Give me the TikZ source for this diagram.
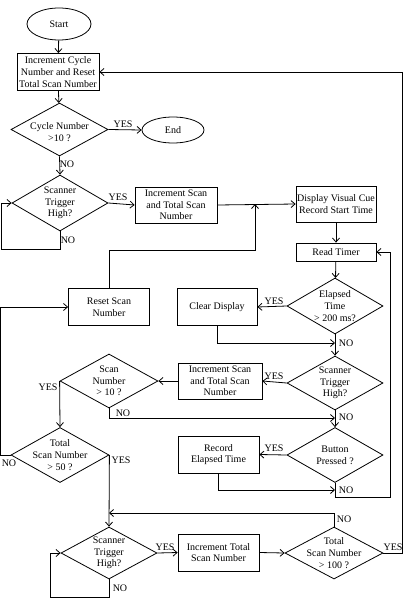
\documentclass[tikz,border=0pt]{standalone}
\usepackage{fontspec}
\setmainfont{Liberation Serif}
\usetikzlibrary{shapes.geometric,arrows.meta}

\tikzset{
  box/.style={draw, rectangle, minimum width=82, minimum height=37, inner sep=1pt, align=center},
  dia/.style={draw, diamond, minimum width=96, minimum height=54, inner sep=0pt},
  oval/.style={draw, ellipse, minimum width=64, minimum height=32, inner sep=0pt},
  txt/.style={align=center, inner sep=0pt},
  lab/.style={inner sep=0pt}
}

\begin{document}
\begin{tikzpicture}[x=1pt, y=-1pt, line width=0.8pt, >={Straight Barb[length=4pt,width=7pt]},
    font=\fontsize{10}{11.7}\selectfont]
            \useasboundingbox (0,0) rectangle (405,599);
            % Start and first cycle
            \node[oval] (start) at (59,24) {Start};
            \node[box] (inccyc) at (58,72) {Increment Cycle\\Number and Reset\\Total Scan Number};
            \node[dia, minimum width=97, minimum height=53] (dcyc) at (59.5,129.5) {};
            \node[txt] (dcyct) at (59.5,132) {Cycle Number\\>10 ?};
            \node[oval, minimum width=62, minimum height=26] (end) at (173,130) {End};
            \node[dia, minimum height=56] (dtrig1) at (60,203) {};
            \node[txt] (dtrig1t) at (dtrig1) {Scanner\\Trigger\\High?};
            \node[box, minimum height=36] (incscan1) at (176,205) {Increment Scan\\and Total Scan\\Number};
            \node[box, minimum width=80, minimum height=36] (cue) at (336,204) {Display Visual Cue\\Record Start Time};
            \node[box, minimum width=80, minimum height=18] (timer) at (336,252) {Read Timer};
            % Right column
            \node[dia, minimum height=56] (delap) at (335,306) {};
            \node[txt] (delapt) at (delap) {Elapsed\\Time\\> 200 ms?};
            \node[box, minimum width=80] (clear) at (217,307) {Clear Display};
            \node[box, minimum width=81] (reset) at (109,307) {Reset Scan\\Number};
            \node[dia] (dtrig2) at (335,383) {};
            \node[txt] (dtrig2t) at (dtrig2) {Scanner\\Trigger\\High?};
            \node[box, minimum width=84, minimum height=36] (incscan2) at (220,381) {Increment Scan\\and Total Scan\\Number};
            \node[dia, minimum width=98] (dscan) at (109,381) {};
            \node[txt] (dscant) at (dscan) {Scan\\Number\\> 10 ?};
            \node[dia, minimum width=98, minimum height=55] (dtot50) at (60,455) {};
            \node[txt] (dtot50t) at (dtot50) {Total\\Scan Number\\> 50 ?};
            \node[dia, minimum height=55] (dbutton) at (335,455) {};
            \node[txt] (dbuttont) at (dbutton) {Button\\Pressed ?};
            \node[box, minimum width=81] (record) at (218.5,454.5) {Record\\Elapsed Time};
            % Bottom row
            \node[dia, minimum height=52] (dtrig3) at (109,553) {};
            \node[txt] (dtrig3t) at (dtrig3) {Scanner\\Trigger\\High?};
            \node[box, minimum width=81] (inctot) at (218.5,552.5) {Increment Total\\Scan Number};
            \node[dia, minimum width=98, minimum height=52] (dtot100) at (334,553) {};
            \node[txt] (dtot100t) at (dtot100) {Total\\Scan Number\\> 100 ?};

            % Joins
            \coordinate (m1) at (255,204);
            \coordinate (m2) at (335,343);
            \coordinate (m3) at (335,418);
            \coordinate (m4) at (335,490);
            \coordinate (m5) at (109,513);
            \coordinate (m6) at (390,497);

            % Connectors
            \draw[->] (start) -- (inccyc);
            \draw[->] (inccyc) -- (dcyc);
            \draw[->] (dcyc.east) -- (end.west);
            \draw[->] (dcyc.south) -- (dtrig1.north);
            \draw[->] (dtrig1.east) -- (incscan1.west);
            \draw[->] (dtrig1.south) -- ++(0,18) -| ([xshift=-10pt]dtrig1.west) -- (dtrig1.west);
            \draw[->] (incscan1.east) -- (cue.west);
            \draw[->] (reset.north) -- ++(0,-38) -| (m1);
            \draw[->] (cue) -- (timer);
            \draw[->] (timer) -- (delap);
            \draw[->] (delap.west) -- (clear.east);
            \draw[->] (clear.south) |- (m2);
            \draw[->] (delap.south) -- (dtrig2.north);
            \draw[->] (dtrig2.west) -- (incscan2.east);
            \draw[->] (incscan2.west) -- (dscan.east);
            \draw[->] (dscan.south) |- (m3);
            \draw[->] (dtrig2.south) -- (dbutton.north);
            \draw[->] (dscan.west) -- (dtot50.north);
            \draw[->] (dtot50.west) -- ++(-10,0) |- (reset.west);
            \draw[->] (dtot50.east) -- (dtrig3.north);
            \draw[->] (dtot100.north) |- (m5);
            \draw[->] (dtrig3.south) -- ++(0,18) -| ([xshift=-10pt]dtrig3.west) -- (dtrig3.west);
            \draw[->] (dtrig3.east) -- (inctot.west);
            \draw[->] (inctot.east) -- (dtot100.west);
            \draw[->] (dtot100.east) -- ++(19,0) |- (inccyc.east);
            \draw[->] (dbutton.west) -- (record.east);
            \draw[->] (record.south) |- (m4);
            \draw[->] (dbutton.south) |- (m6) |- (timer.east);

            % YES / NO
            \node[lab] (y1) at (123,124) {YES};
            \node[lab] (n1) at (67,164) {NO};
            \node[lab] (y2) at (118,197) {YES};
            \node[lab] (n2) at (68,240) {NO};
            \node[lab] (y3) at (274,301) {YES};
            \node[lab] (n3) at (346,343) {NO};
            \node[lab] (y4) at (274,376) {YES};
            \node[lab] (n4) at (346,417) {NO};
            \node[lab] (n5) at (123,413) {NO};
            \node[lab] (y5) at (48,387) {YES};
            \node[lab] (n6) at (9,463) {NO};
            \node[lab] (y6) at (121,460) {YES};
            \node[lab] (y7) at (274,448) {YES};
            \node[lab] (n7) at (346,490) {NO};
            \node[lab] (n8) at (344,519) {NO};
            \node[lab] (y8) at (393,547) {YES};
            \node[lab] (y9) at (165,547) {YES};
            \node[lab] (n9) at (120,588) {NO};
        \end{tikzpicture}
\end{document}
